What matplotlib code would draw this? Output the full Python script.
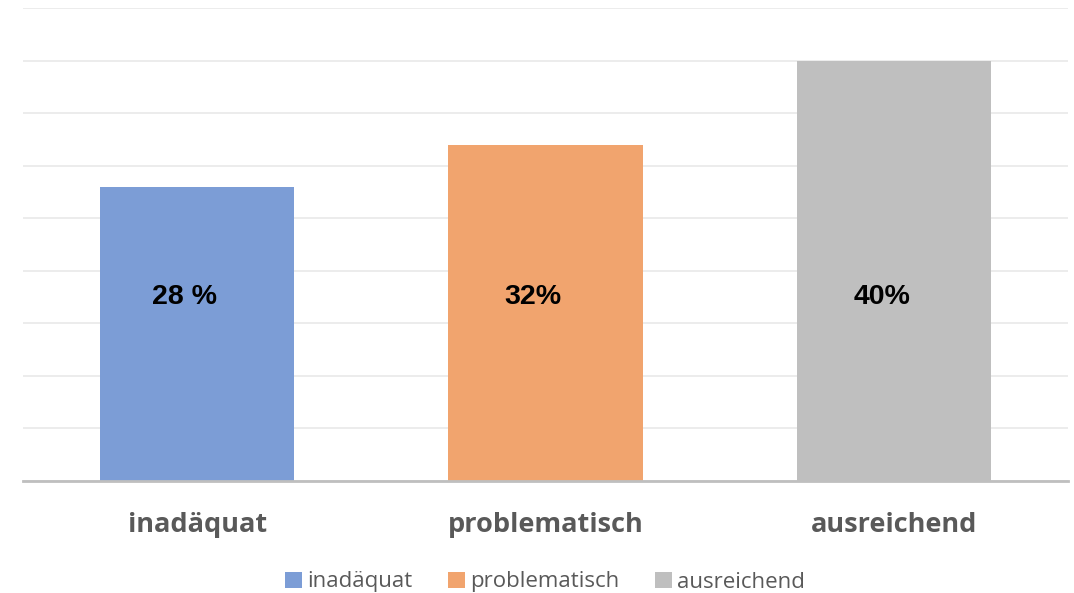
import matplotlib.pyplot as plt

# Daten
categories = ['inadäquat', 'problematisch', 'ausreichend']
values = [28, 32, 40]
value_labels = ['28 %', '32%', '40%']
colors = ['#7C9DD6', '#F1A46E', '#BFBFBF']


def main():
    fig = plt.figure(figsize=(10.74, 5.93), dpi=100)
    ax = fig.add_axes([23 / 1074, 1 - 481 / 593, 1045 / 1074, 473 / 593])

    x = range(len(categories))
    bars = ax.bar(x, values, width=0.557, color=colors, label=categories, zorder=2)

    ax.set_xlim(-0.5, len(categories) - 0.5)
    ax.set_ylim(0, 45)
    ax.set_yticks(range(0, 46, 5))
    ax.yaxis.grid(True, color='#EBEBEB', linewidth=1.3, zorder=0)
    ax.tick_params(axis='y', left=False, labelleft=False)
    ax.tick_params(axis='x', bottom=False, pad=19)
    ax.set_xticks(list(x))
    ax.set_xticklabels(categories, fontfamily='Open Sans', fontweight='bold',
                       fontsize=19.5, color='#595959')

    for side in ['top', 'right', 'left']:
        ax.spines[side].set_visible(False)
    ax.spines['bottom'].set_color('#BFBFBF')
    ax.spines['bottom'].set_linewidth(2)
    ax.spines['bottom'].set_zorder(3)

    # Beschriftungen in den Balken (etwas links von der Mitte, wie im Original)
    for bar, lab in zip(bars, value_labels):
        ax.text(bar.get_x() + bar.get_width() / 2 - 0.035, 17.5, lab, ha='center', va='center',
                fontfamily='Liberation Sans', fontweight='bold', fontsize=20.5, color='black')

    leg = fig.legend(bars, categories, loc='center',
                     bbox_to_anchor=(0.5 + 8 / 1074, 1 - 582 / 593),
                     ncol=3, frameon=False, handlelength=0.75, handleheight=0.75,
                     handletextpad=0.25, columnspacing=1.6,
                     prop={'family': 'Open Sans', 'size': 16})
    for t in leg.get_texts():
        t.set_color('#595959')

    fig.savefig('out.png', dpi=100)


if __name__ == '__main__':
    main()
